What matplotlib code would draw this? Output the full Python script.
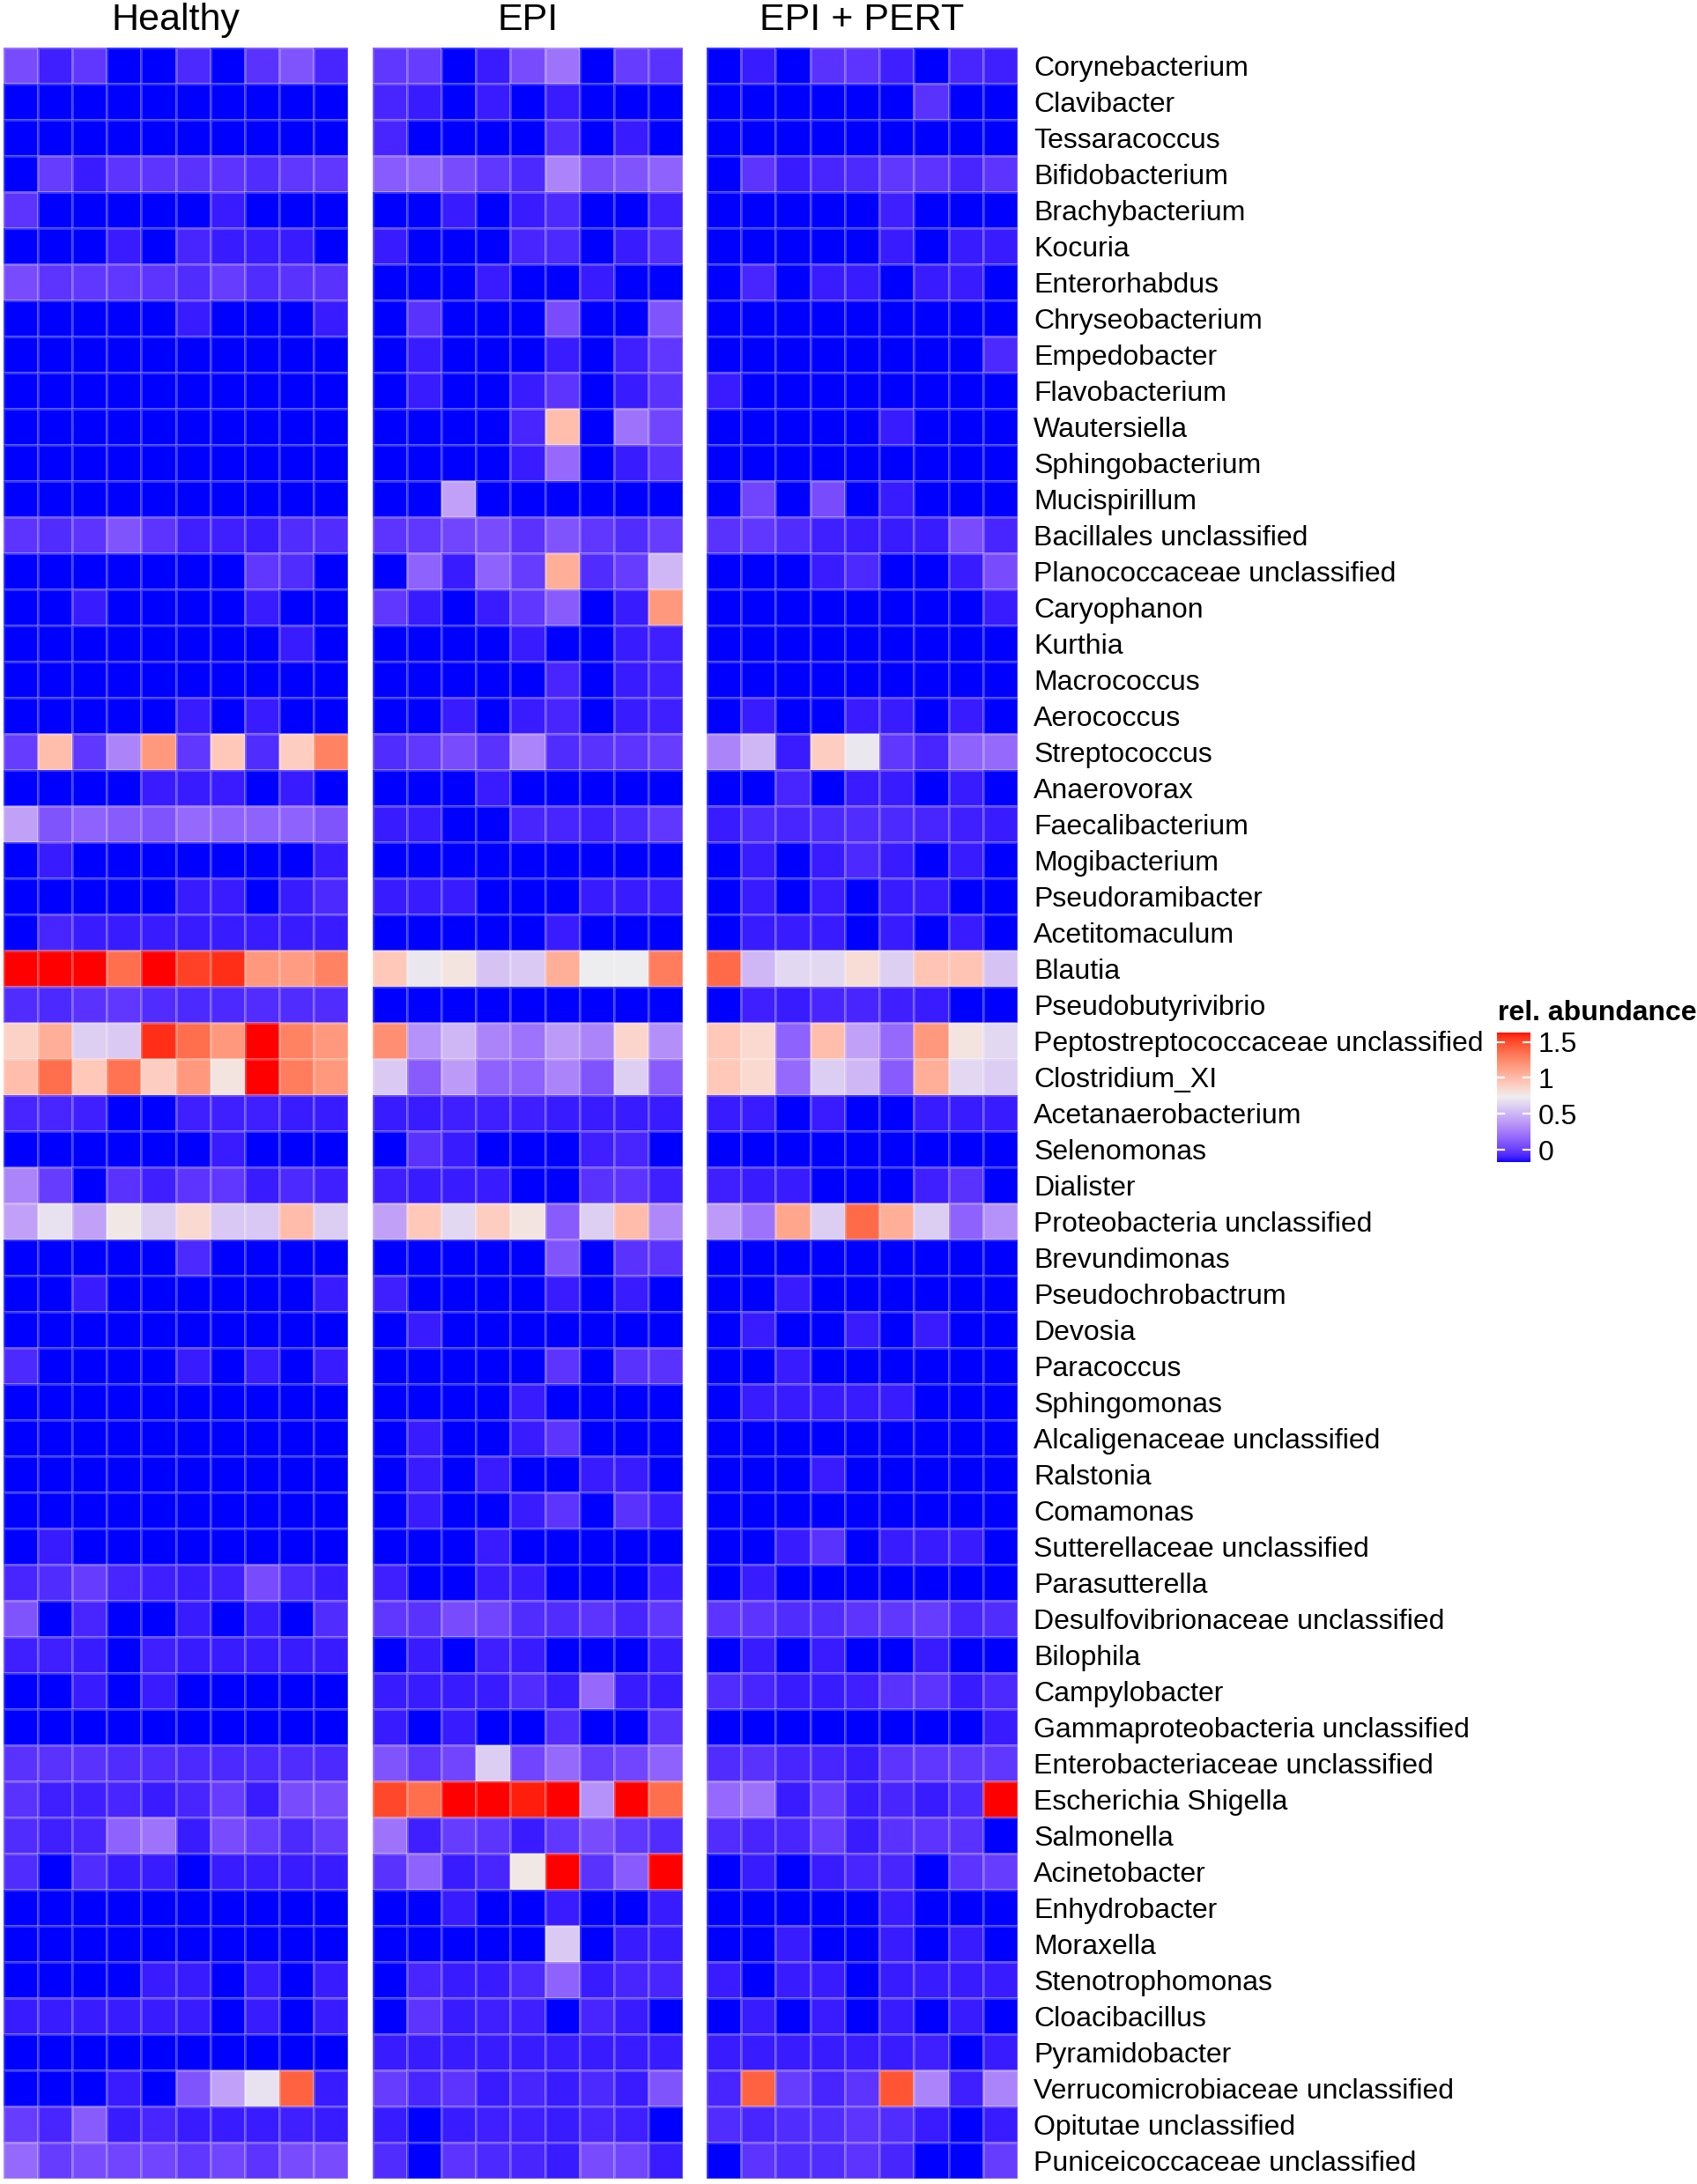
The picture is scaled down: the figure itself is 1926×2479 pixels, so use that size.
import numpy as np
import matplotlib
matplotlib.use("Agg")
import matplotlib.pyplot as plt
from matplotlib.colors import ListedColormap, Normalize

plt.rcParams["font.family"] = ["Liberation Sans", "DejaVu Sans"]

groups = ["Healthy", "EPI", "EPI + PERT"]

taxa = [
    "Corynebacterium", "Clavibacter", "Tessaracoccus", "Bifidobacterium",
    "Brachybacterium", "Kocuria", "Enterorhabdus", "Chryseobacterium",
    "Empedobacter", "Flavobacterium", "Wautersiella", "Sphingobacterium",
    "Mucispirillum", "Bacillales unclassified", "Planococcaceae unclassified",
    "Caryophanon", "Kurthia", "Macrococcus", "Aerococcus", "Streptococcus",
    "Anaerovorax", "Faecalibacterium", "Mogibacterium", "Pseudoramibacter",
    "Acetitomaculum", "Blautia", "Pseudobutyrivibrio",
    "Peptostreptococcaceae unclassified", "Clostridium_XI",
    "Acetanaerobacterium", "Selenomonas", "Dialister",
    "Proteobacteria unclassified", "Brevundimonas", "Pseudochrobactrum",
    "Devosia", "Paracoccus", "Sphingomonas", "Alcaligenaceae unclassified",
    "Ralstonia", "Comamonas", "Sutterellaceae unclassified", "Parasutterella",
    "Desulfovibrionaceae unclassified", "Bilophila", "Campylobacter",
    "Gammaproteobacteria unclassified", "Enterobacteriaceae unclassified",
    "Escherichia Shigella", "Salmonella", "Acinetobacter", "Enhydrobacter",
    "Moraxella", "Stenotrophomonas", "Cloacibacillus", "Pyramidobacter",
    "Verrucomicrobiaceae unclassified", "Opitutae unclassified",
    "Puniceicoccaceae unclassified",
]

# relative abundance per taxon (rows) and animal (columns)
healthy = [
    [0.05, -0.11, -0.03, -0.17, -0.17, -0.08, -0.17, -0.05, 0.08, -0.09],
    [-0.17, -0.17, -0.17, -0.17, -0.17, -0.17, -0.17, -0.17, -0.17, -0.17],
    [-0.17, -0.17, -0.17, -0.17, -0.17, -0.17, -0.17, -0.17, -0.17, -0.17],
    [-0.17, -0.01, -0.12, -0.04, -0.04, -0.05, -0.04, -0.07, -0.03, -0.03],
    [-0.04, -0.17, -0.17, -0.17, -0.17, -0.17, -0.12, -0.17, -0.17, -0.17],
    [-0.17, -0.17, -0.17, -0.12, -0.17, -0.09, -0.12, -0.12, -0.12, -0.17],
    [0.05, -0.04, -0.03, -0.03, -0.04, -0.07, -0.01, -0.07, -0.05, -0.05],
    [-0.17, -0.17, -0.17, -0.17, -0.17, -0.12, -0.17, -0.17, -0.17, -0.12],
    [-0.17, -0.17, -0.17, -0.17, -0.17, -0.17, -0.17, -0.17, -0.17, -0.17],
    [-0.17, -0.17, -0.17, -0.17, -0.17, -0.17, -0.17, -0.17, -0.17, -0.17],
    [-0.17, -0.17, -0.17, -0.17, -0.17, -0.17, -0.17, -0.17, -0.17, -0.17],
    [-0.17, -0.17, -0.17, -0.17, -0.17, -0.17, -0.17, -0.17, -0.17, -0.17],
    [-0.17, -0.17, -0.17, -0.17, -0.17, -0.17, -0.17, -0.17, -0.17, -0.17],
    [-0.04, -0.07, -0.04, 0.08, -0.04, -0.11, -0.11, -0.12, -0.07, -0.07],
    [-0.17, -0.17, -0.17, -0.17, -0.17, -0.17, -0.17, -0.03, -0.07, -0.17],
    [-0.17, -0.17, -0.12, -0.17, -0.17, -0.17, -0.17, -0.12, -0.17, -0.17],
    [-0.17, -0.17, -0.17, -0.17, -0.17, -0.17, -0.17, -0.17, -0.12, -0.17],
    [-0.17, -0.17, -0.17, -0.17, -0.17, -0.17, -0.17, -0.17, -0.17, -0.17],
    [-0.17, -0.17, -0.17, -0.17, -0.17, -0.12, -0.17, -0.12, -0.17, -0.17],
    [-0.01, 0.98, -0.03, 0.28, 1.17, -0.03, 0.93, -0.07, 0.90, 1.27],
    [-0.17, -0.17, -0.17, -0.17, -0.12, -0.12, -0.12, -0.17, -0.12, -0.17],
    [0.41, 0.08, 0.14, 0.11, 0.08, 0.17, 0.14, 0.14, 0.14, 0.08],
    [-0.17, -0.12, -0.17, -0.17, -0.17, -0.17, -0.17, -0.17, -0.17, -0.12],
    [-0.17, -0.17, -0.17, -0.17, -0.17, -0.12, -0.12, -0.17, -0.12, -0.08],
    [-0.17, -0.09, -0.12, -0.12, -0.12, -0.12, -0.12, -0.12, -0.12, -0.12],
    [1.63, 1.63, 1.63, 1.36, 1.63, 1.52, 1.57, 1.17, 1.15, 1.27],
    [-0.07, -0.08, -0.05, -0.03, -0.07, -0.08, -0.08, -0.07, -0.07, -0.07],
    [0.88, 1.06, 0.60, 0.58, 1.57, 1.36, 1.17, 1.63, 1.27, 1.17],
    [0.98, 1.36, 0.93, 1.34, 0.90, 1.17, 0.78, 1.63, 1.30, 1.17],
    [-0.09, -0.09, -0.11, -0.17, -0.17, -0.11, -0.11, -0.11, -0.12, -0.12],
    [-0.17, -0.17, -0.17, -0.17, -0.17, -0.17, -0.12, -0.17, -0.17, -0.17],
    [0.28, -0.01, -0.17, -0.05, -0.11, -0.04, -0.03, -0.12, -0.08, -0.11],
    [0.41, 0.68, 0.41, 0.76, 0.59, 0.84, 0.57, 0.57, 0.99, 0.59],
    [-0.17, -0.17, -0.17, -0.17, -0.17, -0.08, -0.17, -0.17, -0.17, -0.17],
    [-0.17, -0.17, -0.12, -0.17, -0.17, -0.17, -0.17, -0.17, -0.17, -0.12],
    [-0.17, -0.17, -0.17, -0.17, -0.17, -0.17, -0.17, -0.17, -0.17, -0.17],
    [-0.08, -0.17, -0.17, -0.17, -0.17, -0.12, -0.17, -0.12, -0.17, -0.12],
    [-0.17, -0.17, -0.17, -0.17, -0.17, -0.17, -0.17, -0.17, -0.17, -0.17],
    [-0.17, -0.17, -0.17, -0.17, -0.17, -0.17, -0.17, -0.17, -0.17, -0.17],
    [-0.17, -0.17, -0.17, -0.17, -0.17, -0.17, -0.17, -0.17, -0.17, -0.17],
    [-0.17, -0.17, -0.17, -0.17, -0.17, -0.17, -0.17, -0.17, -0.17, -0.17],
    [-0.17, -0.12, -0.17, -0.17, -0.17, -0.17, -0.17, -0.17, -0.17, -0.17],
    [-0.09, -0.07, -0.01, -0.09, -0.11, -0.12, -0.11, 0.05, -0.08, -0.12],
    [0.08, -0.17, -0.09, -0.17, -0.17, -0.12, -0.17, -0.12, -0.17, -0.07],
    [-0.11, -0.11, -0.12, -0.17, -0.11, -0.12, -0.12, -0.12, -0.12, -0.12],
    [-0.17, -0.17, -0.12, -0.17, -0.12, -0.17, -0.17, -0.17, -0.17, -0.17],
    [-0.17, -0.17, -0.17, -0.17, -0.17, -0.17, -0.17, -0.17, -0.17, -0.17],
    [-0.05, -0.05, -0.05, -0.07, -0.07, -0.08, -0.08, -0.08, -0.07, -0.08],
    [-0.05, -0.11, -0.11, -0.09, -0.12, -0.09, -0.01, -0.12, 0.05, 0.05],
    [-0.07, -0.11, -0.09, 0.14, 0.21, -0.12, 0.05, -0.01, -0.08, -0.01],
    [-0.07, -0.17, -0.07, -0.12, -0.12, -0.17, -0.12, -0.12, -0.12, -0.12],
    [-0.17, -0.17, -0.17, -0.17, -0.17, -0.17, -0.17, -0.17, -0.17, -0.17],
    [-0.17, -0.17, -0.17, -0.17, -0.17, -0.17, -0.17, -0.17, -0.17, -0.17],
    [-0.17, -0.17, -0.17, -0.17, -0.12, -0.12, -0.17, -0.12, -0.17, -0.12],
    [-0.12, -0.12, -0.12, -0.12, -0.12, -0.12, -0.17, -0.12, -0.17, -0.12],
    [-0.17, -0.17, -0.17, -0.17, -0.17, -0.17, -0.17, -0.17, -0.17, -0.17],
    [-0.17, -0.17, -0.17, -0.12, -0.17, 0.08, 0.41, 0.68, 1.41, -0.12],
    [-0.01, -0.09, 0.11, -0.12, -0.09, -0.12, -0.12, -0.12, -0.11, -0.12],
    [0.17, -0.01, 0.05, 0.02, 0.02, -0.03, 0.02, -0.04, 0.05, 0.05],
]

epi = [
    [-0.03, -0.01, -0.17, -0.12, 0.05, 0.21, -0.17, -0.01, -0.05],
    [-0.09, -0.12, -0.17, -0.12, -0.17, -0.12, -0.17, -0.17, -0.17],
    [-0.09, -0.17, -0.17, -0.17, -0.17, -0.07, -0.17, -0.12, -0.17],
    [0.11, 0.14, 0.05, -0.03, -0.08, 0.28, 0.05, 0.08, 0.14],
    [-0.17, -0.17, -0.12, -0.17, -0.12, -0.08, -0.17, -0.17, -0.11],
    [-0.12, -0.17, -0.17, -0.17, -0.09, -0.08, -0.17, -0.12, -0.07],
    [-0.17, -0.17, -0.17, -0.12, -0.17, -0.17, -0.12, -0.17, -0.17],
    [-0.17, -0.05, -0.17, -0.17, -0.17, 0.05, -0.17, -0.17, 0.08],
    [-0.17, -0.12, -0.17, -0.17, -0.17, -0.12, -0.17, -0.11, -0.03],
    [-0.17, -0.12, -0.17, -0.17, -0.12, -0.04, -0.17, -0.12, -0.05],
    [-0.17, -0.17, -0.17, -0.17, -0.09, 0.98, -0.17, 0.21, 0.02],
    [-0.17, -0.17, -0.17, -0.17, -0.12, 0.17, -0.17, -0.12, -0.05],
    [-0.17, -0.17, 0.41, -0.17, -0.17, -0.17, -0.17, -0.17, -0.17],
    [-0.04, -0.03, 0.02, 0.05, -0.05, 0.08, -0.03, -0.07, -0.01],
    [-0.17, 0.14, -0.12, 0.14, -0.01, 1.06, -0.07, -0.01, 0.50],
    [-0.03, -0.12, -0.17, -0.12, -0.03, 0.11, -0.17, -0.12, 1.17],
    [-0.17, -0.17, -0.17, -0.17, -0.12, -0.17, -0.17, -0.12, -0.11],
    [-0.17, -0.17, -0.17, -0.17, -0.17, -0.09, -0.17, -0.12, -0.11],
    [-0.17, -0.17, -0.12, -0.17, -0.12, -0.09, -0.17, -0.12, -0.11],
    [-0.07, -0.03, 0.05, -0.05, 0.28, -0.07, -0.05, -0.04, -0.01],
    [-0.17, -0.17, -0.17, -0.12, -0.17, -0.17, -0.17, -0.17, -0.17],
    [-0.12, -0.12, -0.17, -0.17, -0.09, -0.09, -0.11, -0.08, -0.03],
    [-0.17, -0.17, -0.17, -0.17, -0.17, -0.17, -0.17, -0.17, -0.17],
    [-0.12, -0.12, -0.12, -0.17, -0.17, -0.17, -0.12, -0.12, -0.12],
    [-0.17, -0.17, -0.17, -0.17, -0.17, -0.12, -0.17, -0.17, -0.17],
    [0.93, 0.70, 0.78, 0.55, 0.58, 1.06, 0.72, 0.72, 1.30],
    [-0.17, -0.17, -0.17, -0.17, -0.17, -0.17, -0.17, -0.17, -0.17],
    [1.21, 0.34, 0.50, 0.28, 0.21, 0.38, 0.28, 0.86, 0.33],
    [0.58, 0.11, 0.38, 0.14, 0.14, 0.28, 0.08, 0.60, 0.11],
    [-0.12, -0.12, -0.11, -0.11, -0.11, -0.12, -0.12, -0.12, -0.12],
    [-0.17, -0.05, -0.12, -0.17, -0.17, -0.17, -0.11, -0.09, -0.17],
    [-0.11, -0.12, -0.12, -0.12, -0.17, -0.17, -0.05, -0.04, -0.11],
    [0.41, 0.93, 0.64, 0.90, 0.78, 0.11, 0.60, 0.99, 0.30],
    [-0.17, -0.17, -0.17, -0.17, -0.17, 0.08, -0.17, -0.05, -0.05],
    [-0.11, -0.17, -0.17, -0.17, -0.17, -0.12, -0.17, -0.12, -0.17],
    [-0.17, -0.12, -0.17, -0.17, -0.17, -0.17, -0.17, -0.17, -0.17],
    [-0.17, -0.17, -0.17, -0.17, -0.17, -0.04, -0.17, -0.05, -0.05],
    [-0.17, -0.17, -0.17, -0.17, -0.12, -0.17, -0.17, -0.17, -0.17],
    [-0.17, -0.12, -0.17, -0.17, -0.12, -0.04, -0.17, -0.17, -0.17],
    [-0.17, -0.12, -0.17, -0.12, -0.17, -0.17, -0.12, -0.12, -0.17],
    [-0.17, -0.12, -0.17, -0.17, -0.12, -0.04, -0.17, -0.05, -0.12],
    [-0.17, -0.17, -0.17, -0.12, -0.17, -0.17, -0.17, -0.17, -0.17],
    [-0.11, -0.17, -0.17, -0.12, -0.12, -0.17, -0.17, -0.17, -0.12],
    [-0.03, -0.05, 0.05, 0.02, -0.07, -0.07, -0.04, -0.09, -0.03],
    [-0.17, -0.12, -0.17, -0.11, -0.12, -0.17, -0.17, -0.17, -0.12],
    [-0.12, -0.12, -0.12, -0.12, -0.07, -0.12, 0.17, -0.12, -0.12],
    [-0.12, -0.17, -0.12, -0.17, -0.17, -0.07, -0.17, -0.17, -0.05],
    [0.08, -0.04, 0.02, 0.59, 0.02, 0.17, -0.01, 0.02, 0.14],
    [1.50, 1.36, 1.63, 1.63, 1.60, 1.63, 0.34, 1.63, 1.36],
    [0.21, -0.11, -0.01, -0.04, -0.12, -0.03, 0.05, -0.03, -0.07],
    [-0.05, 0.14, -0.12, -0.09, 0.76, 1.63, -0.05, 0.11, 1.63],
    [-0.17, -0.17, -0.12, -0.17, -0.17, -0.12, -0.17, -0.17, -0.12],
    [-0.17, -0.17, -0.17, -0.17, -0.17, 0.58, -0.17, -0.12, -0.12],
    [-0.17, -0.09, -0.12, -0.12, -0.08, 0.14, -0.12, -0.09, -0.09],
    [-0.17, -0.04, -0.12, -0.11, -0.11, -0.17, -0.09, -0.12, -0.17],
    [-0.12, -0.12, -0.12, -0.12, -0.12, -0.12, -0.12, -0.12, -0.12],
    [-0.01, -0.09, -0.04, -0.12, -0.09, -0.12, -0.08, -0.12, 0.08],
    [-0.12, -0.17, -0.12, -0.11, -0.11, -0.12, -0.09, -0.11, -0.17],
    [-0.07, -0.17, -0.04, -0.08, -0.09, -0.12, 0.05, 0.02, -0.12],
]

epi_pert = [
    [-0.17, -0.12, -0.17, -0.05, -0.04, -0.11, -0.17, -0.09, -0.11],
    [-0.17, -0.17, -0.17, -0.17, -0.17, -0.17, -0.05, -0.17, -0.17],
    [-0.17, -0.17, -0.17, -0.17, -0.17, -0.17, -0.17, -0.17, -0.17],
    [-0.17, -0.04, -0.12, -0.09, -0.08, -0.03, -0.04, -0.09, -0.04],
    [-0.17, -0.17, -0.17, -0.17, -0.17, -0.11, -0.17, -0.17, -0.17],
    [-0.17, -0.17, -0.17, -0.17, -0.17, -0.12, -0.17, -0.12, -0.12],
    [-0.17, -0.09, -0.17, -0.12, -0.12, -0.17, -0.12, -0.12, -0.17],
    [-0.17, -0.17, -0.17, -0.17, -0.17, -0.17, -0.17, -0.17, -0.17],
    [-0.17, -0.17, -0.17, -0.17, -0.17, -0.17, -0.17, -0.17, -0.08],
    [-0.12, -0.17, -0.17, -0.17, -0.17, -0.17, -0.17, -0.17, -0.17],
    [-0.17, -0.17, -0.17, -0.17, -0.17, -0.12, -0.17, -0.17, -0.17],
    [-0.17, -0.17, -0.17, -0.17, -0.17, -0.17, -0.17, -0.17, -0.17],
    [-0.17, 0.02, -0.17, 0.05, -0.17, -0.12, -0.17, -0.17, -0.17],
    [-0.05, -0.03, -0.07, -0.11, -0.12, -0.12, -0.12, 0.05, -0.09],
    [-0.17, -0.17, -0.17, -0.12, -0.08, -0.17, -0.17, -0.12, 0.05],
    [-0.17, -0.17, -0.17, -0.17, -0.17, -0.17, -0.17, -0.17, -0.12],
    [-0.17, -0.17, -0.17, -0.17, -0.17, -0.17, -0.17, -0.17, -0.17],
    [-0.17, -0.17, -0.17, -0.17, -0.17, -0.17, -0.17, -0.17, -0.17],
    [-0.17, -0.12, -0.17, -0.17, -0.12, -0.12, -0.17, -0.12, -0.17],
    [0.28, 0.50, -0.12, 0.90, 0.70, -0.03, -0.09, 0.14, 0.17],
    [-0.17, -0.17, -0.09, -0.17, -0.12, -0.12, -0.17, -0.12, -0.17],
    [-0.12, -0.08, -0.09, -0.08, -0.07, -0.08, -0.09, -0.11, -0.12],
    [-0.17, -0.12, -0.17, -0.12, -0.08, -0.12, -0.17, -0.12, -0.17],
    [-0.17, -0.12, -0.17, -0.12, -0.17, -0.12, -0.12, -0.17, -0.17],
    [-0.17, -0.12, -0.12, -0.12, -0.17, -0.12, -0.17, -0.12, -0.17],
    [1.38, 0.50, 0.64, 0.64, 0.82, 0.60, 0.95, 0.95, 0.55],
    [-0.17, -0.11, -0.12, -0.09, -0.09, -0.11, -0.12, -0.17, -0.17],
    [0.93, 0.84, 0.14, 0.98, 0.41, 0.17, 1.17, 0.78, 0.64],
    [0.93, 0.84, 0.17, 0.59, 0.50, 0.11, 1.06, 0.64, 0.59],
    [-0.12, -0.12, -0.17, -0.12, -0.17, -0.17, -0.12, -0.12, -0.12],
    [-0.17, -0.17, -0.17, -0.17, -0.17, -0.17, -0.17, -0.17, -0.17],
    [-0.11, -0.12, -0.12, -0.17, -0.17, -0.17, -0.11, -0.05, -0.17],
    [0.38, 0.21, 1.10, 0.59, 1.38, 1.06, 0.59, 0.14, 0.34],
    [-0.17, -0.17, -0.17, -0.17, -0.17, -0.17, -0.17, -0.17, -0.17],
    [-0.17, -0.17, -0.12, -0.17, -0.17, -0.17, -0.17, -0.17, -0.17],
    [-0.17, -0.12, -0.17, -0.17, -0.12, -0.17, -0.12, -0.17, -0.17],
    [-0.17, -0.17, -0.12, -0.17, -0.17, -0.17, -0.17, -0.17, -0.17],
    [-0.17, -0.12, -0.12, -0.12, -0.12, -0.12, -0.17, -0.17, -0.17],
    [-0.17, -0.17, -0.17, -0.17, -0.17, -0.17, -0.17, -0.17, -0.17],
    [-0.17, -0.17, -0.17, -0.12, -0.17, -0.17, -0.17, -0.17, -0.17],
    [-0.17, -0.17, -0.17, -0.17, -0.17, -0.17, -0.17, -0.17, -0.17],
    [-0.17, -0.17, -0.12, -0.05, -0.17, -0.12, -0.12, -0.12, -0.17],
    [-0.17, -0.12, -0.17, -0.17, -0.17, -0.17, -0.17, -0.17, -0.17],
    [-0.04, -0.04, -0.07, -0.07, -0.04, -0.03, -0.01, -0.09, -0.07],
    [-0.17, -0.12, -0.17, -0.12, -0.17, -0.17, -0.12, -0.17, -0.17],
    [-0.07, -0.09, -0.12, -0.12, -0.11, -0.05, -0.04, -0.12, -0.08],
    [-0.17, -0.17, -0.17, -0.17, -0.17, -0.17, -0.17, -0.17, -0.12],
    [-0.07, -0.05, -0.09, -0.09, -0.12, -0.04, -0.03, -0.03, -0.03],
    [0.17, 0.20, -0.12, -0.01, -0.12, -0.09, -0.12, -0.08, 1.63],
    [-0.07, -0.09, -0.09, -0.01, -0.12, -0.05, -0.04, -0.05, -0.17],
    [-0.17, -0.12, -0.17, -0.12, -0.09, -0.09, -0.17, -0.04, -0.01],
    [-0.17, -0.17, -0.17, -0.17, -0.17, -0.12, -0.17, -0.17, -0.17],
    [-0.17, -0.17, -0.12, -0.17, -0.17, -0.12, -0.17, -0.12, -0.17],
    [-0.12, -0.17, -0.12, -0.12, -0.17, -0.12, -0.12, -0.12, -0.12],
    [-0.17, -0.12, -0.17, -0.12, -0.17, -0.12, -0.17, -0.12, -0.17],
    [-0.12, -0.12, -0.12, -0.12, -0.12, -0.12, -0.11, -0.17, -0.12],
    [-0.09, 1.41, -0.01, -0.09, -0.04, 1.46, 0.28, -0.11, 0.28],
    [-0.07, -0.09, -0.07, -0.07, -0.04, -0.07, -0.12, -0.17, -0.12],
    [-0.17, -0.04, -0.07, -0.07, -0.04, -0.09, -0.17, -0.17, -0.01],
]

cbar_ticks = [0, 0.5, 1, 1.5]
cbar_labels = ["0", "0.5", "1", "1.5"]


# --- blue / white / red gradient interpolated in CIE Lab (as ggplot does) ---
def srgb_to_lab(rgb):
    c = np.asarray(rgb, float) / 255.0
    lin = np.where(c <= 0.04045, c / 12.92, ((c + 0.055) / 1.055) ** 2.4)
    m = np.array([[0.4124, 0.3576, 0.1805],
                  [0.2126, 0.7152, 0.0722],
                  [0.0193, 0.1192, 0.9505]])
    xyz = m @ lin / np.array([0.95047, 1.0, 1.08883])
    d = 6 / 29
    f = np.where(xyz > d ** 3, np.cbrt(xyz), xyz / (3 * d * d) + 4 / 29)
    return np.array([116 * f[1] - 16, 500 * (f[0] - f[1]), 200 * (f[1] - f[2])])


def lab_to_srgb(lab):
    L, a, b = lab
    fy = (L + 16) / 116
    f = np.array([fy + a / 500, fy, fy - b / 200])
    d = 6 / 29
    xyz = np.where(f > d, f ** 3, 3 * d * d * (f - 4 / 29)) * np.array([0.95047, 1.0, 1.08883])
    minv = np.array([[3.2406, -1.5372, -0.4986],
                     [-0.9689, 1.8758, 0.0415],
                     [0.0557, -0.2040, 1.0570]])
    lin = np.clip(minv @ xyz, 0, 1)
    return np.where(lin <= 0.0031308, 12.92 * lin, 1.055 * lin ** (1 / 2.4) - 0.055)


anchors = [srgb_to_lab(c) for c in [(0, 0, 255), (238, 238, 238), (255, 0, 0)]]
cols = []
for t in np.linspace(0, 1, 512):
    if t <= 0.5:
        lab = anchors[0] + (anchors[1] - anchors[0]) * (t / 0.5)
    else:
        lab = anchors[1] + (anchors[2] - anchors[1]) * ((t - 0.5) / 0.5)
    cols.append(lab_to_srgb(lab))
cmap = ListedColormap(np.clip(cols, 0, 1))

all_vals = np.concatenate([np.ravel(healthy), np.ravel(epi), np.ravel(epi_pert)])
norm = Normalize(vmin=all_vals.min(), vmax=all_vals.max())

W, H = 1926, 2479
fig = plt.figure(figsize=(W / 100, H / 100), dpi=100)

top, bottom = 54, 2473
panels = [(healthy, 4, 395), (epi, 423, 775), (epi_pert, 802, 1155)]
axes = []
for (data, x0, x1), name in zip(panels, groups):
    arr = np.array(data)
    ax = fig.add_axes([x0 / W, 1 - bottom / H, (x1 - x0) / W, (bottom - top) / H])
    ax.pcolormesh(arr, cmap=cmap, norm=norm, edgecolors=(1, 1, 1, 0.22), linewidth=0.8)
    ax.set_xlim(0, arr.shape[1])
    ax.set_ylim(arr.shape[0], 0)
    ax.set_xticks([])
    ax.set_yticks([])
    for s in ax.spines.values():
        s.set_visible(False)
    fig.text((x0 + x1) / 2 / W, 1 - 23 / H, name, ha="center", va="center", fontsize=31)
    axes.append(ax)

# taxon names on the right of the last panel
ax = axes[-1]
ax.yaxis.tick_right()
ax.set_yticks(np.arange(len(taxa)) + 0.5)
ax.set_yticklabels(taxa, fontsize=23)
ax.tick_params(axis="y", length=0, pad=13)

# colour bar
cax = fig.add_axes([1699 / W, 1 - 1319 / H, 38 / W, 147 / H])
grad = np.linspace(norm.vmin, norm.vmax, 300)[:, None]
cax.imshow(grad, aspect="auto", cmap=cmap, norm=norm, origin="lower",
           extent=[0, 1, norm.vmin, norm.vmax])
for v in cbar_ticks:
    cax.plot([0, 0.2], [v, v], color="white", lw=1.6)
    cax.plot([0.8, 1], [v, v], color="white", lw=1.6)
cax.set_xlim(0, 1)
cax.set_ylim(norm.vmin, norm.vmax)
cax.set_xticks([])
cax.yaxis.tick_right()
cax.set_yticks(cbar_ticks)
cax.set_yticklabels(cbar_labels, fontsize=23)
cax.tick_params(axis="y", length=0, pad=6)
for s in cax.spines.values():
    s.set_visible(False)
fig.text(1700 / W, 1 - 1150 / H, "rel. abundance", fontsize=23, fontweight="bold",
         ha="left", va="center")

fig.savefig("out.png", dpi=100, facecolor="white")
